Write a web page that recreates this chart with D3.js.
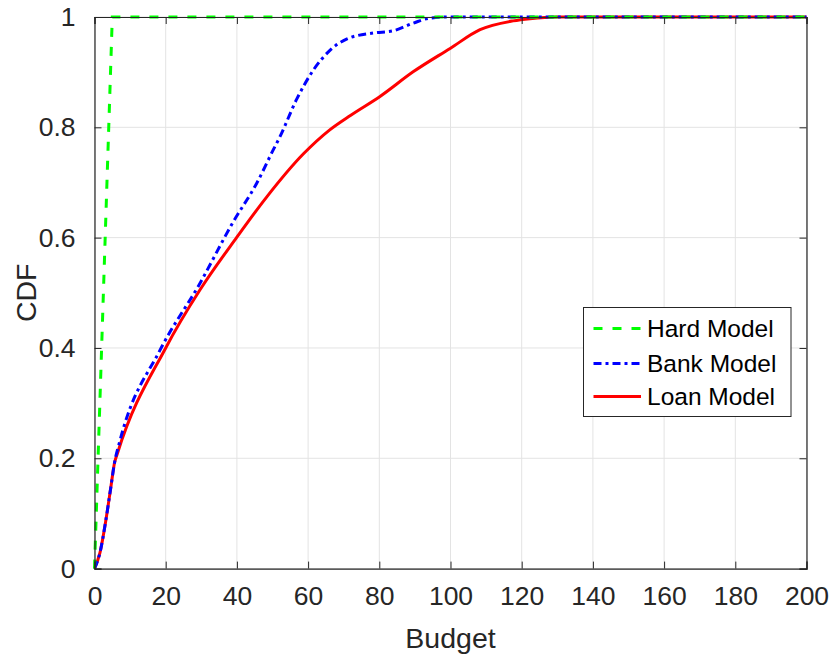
<!DOCTYPE html>
<html>
<head>
<meta charset="utf-8">
<script src="https://cdn.jsdelivr.net/npm/d3@7"></script>
<style>
  body { margin: 0; background: #fff; }
  svg { font-family: "Liberation Sans", Arial, Helvetica, sans-serif; }
</style>
</head>
<body>
<div id="chart"></div>
<script>
// values
const hardX = [0, 1, 2, 3, 4, 5, 200];
const hardY = [0, 0.2, 0.4, 0.6, 0.8, 1, 1];

const bankX = [0, 1.5, 3.2, 4.6, 5.6, 7.2, 18.4, 29.6, 39, 45.6, 50.2, 52.1, 56.8, 61.5, 66.2, 70.8, 78.3, 83.9, 89.6, 94.2, 100, 200];
const bankY = [0, 0.028, 0.088, 0.148, 0.191, 0.233, 0.396, 0.517, 0.629, 0.699, 0.759, 0.783, 0.851, 0.904, 0.94, 0.96, 0.971, 0.975, 0.989, 0.998, 1, 1];

const loanX = [0, 1.5, 3.2, 4.6, 5.6, 6.5, 20, 29.6, 39.9, 48.4, 58.7, 66, 72, 80.2, 89.6, 99.9, 108.3, 117.6, 122.3, 130, 200];
const loanY = [0, 0.028, 0.088, 0.148, 0.191, 0.21, 0.4, 0.505, 0.6, 0.674, 0.752, 0.795, 0.822, 0.856, 0.901, 0.943, 0.977, 0.993, 0.997, 1, 1];

const xTicks = [0, 20, 40, 60, 80, 100, 120, 140, 160, 180, 200];
const yTicks = [0, 0.2, 0.4, 0.6, 0.8, 1];
const seriesNames = ["Hard Model", "Bank Model", "Loan Model"];

const width = 830, height = 656;
const margin = {top: 17, right: 23.5, bottom: 87.4, left: 94.5};
const innerW = width - margin.left - margin.right;
const innerH = height - margin.top - margin.bottom;
const axisColor = "#262626";

const svg = d3.select("#chart")
  .append("svg")
  .attr("width", width)
  .attr("height", height);

const g = svg.append("g")
  .attr("transform", `translate(${margin.left}, ${margin.top})`);

const x = d3.scaleLinear().domain([0, 200]).range([0, innerW]);
const y = d3.scaleLinear().domain([0, 1]).range([innerH, 0]);

// grid
g.append("g")
  .selectAll("line")
  .data(xTicks)
  .join("line")
  .attr("x1", d => x(d)).attr("x2", d => x(d))
  .attr("y1", 0).attr("y2", innerH)
  .attr("stroke", "#e3e3e3").attr("stroke-width", 1);

g.append("g")
  .selectAll("line")
  .data(yTicks)
  .join("line")
  .attr("y1", d => y(d)).attr("y2", d => y(d))
  .attr("x1", 0).attr("x2", innerW)
  .attr("stroke", "#e3e3e3").attr("stroke-width", 1);

// lines
const series = [
  {name: seriesNames[0], xs: hardX, ys: hardY, color: "#00ff00", dash: "9,10", curve: d3.curveLinear},
  {name: seriesNames[1], xs: bankX, ys: bankY, color: "#0000ff", dash: "8,4,3,4", curve: d3.curveMonotoneX},
  {name: seriesNames[2], xs: loanX, ys: loanY, color: "#ff0000", dash: null, curve: d3.curveMonotoneX}
];

// draw red first, then blue, then green on top
[series[2], series[1], series[0]].forEach(s => {
  const pts = s.xs.map((v, i) => [v, s.ys[i]]);
  const line = d3.line()
    .x(d => x(d[0]))
    .y(d => y(d[1]))
    .curve(s.curve);
  g.append("path")
    .datum(pts)
    .attr("d", line)
    .attr("fill", "none")
    .attr("stroke", s.color)
    .attr("stroke-width", 3)
    .attr("stroke-dasharray", s.dash);
});

// axes
const tickLen = 7;
const xAxis = g.append("g")
  .attr("transform", `translate(0, ${innerH})`)
  .call(d3.axisBottom(x).tickValues(xTicks).tickSize(-tickLen).tickPadding(18).tickFormat(d3.format("d")));
const xAxisTop = g.append("g")
  .call(d3.axisTop(x).tickValues(xTicks).tickSize(-tickLen).tickFormat(""));
const yAxis = g.append("g")
  .call(d3.axisLeft(y).tickValues(yTicks).tickSize(-tickLen).tickPadding(19).tickFormat(d => d === 0 || d === 1 ? d3.format("d")(d) : d3.format(".1f")(d)));
const yAxisRight = g.append("g")
  .attr("transform", `translate(${innerW}, 0)`)
  .call(d3.axisRight(y).tickValues(yTicks).tickSize(-tickLen).tickFormat(""));

[xAxis, xAxisTop, yAxis, yAxisRight].forEach(a => {
  a.select(".domain").attr("stroke", axisColor).attr("stroke-width", 1.2);
  a.selectAll(".tick line").attr("stroke", axisColor).attr("stroke-width", 1);
  a.selectAll(".tick text").attr("fill", axisColor).attr("font-size", 26.5)
    .attr("font-family", "'Liberation Sans', Arial, sans-serif");
});

// axis labels
svg.append("text")
  .attr("x", margin.left + innerW / 2)
  .attr("y", 648)
  .attr("text-anchor", "middle")
  .attr("fill", axisColor)
  .attr("font-size", 28.5)
  .text("Budget");

svg.append("text")
  .attr("transform", `translate(36, ${margin.top + innerH / 2}) rotate(-90)`)
  .attr("text-anchor", "middle")
  .attr("fill", axisColor)
  .attr("font-size", 28.5)
  .text("CDF");

// legend
const legend = svg.append("g").attr("transform", "translate(583.5, 307.5)");
legend.append("rect")
  .attr("width", 207.5).attr("height", 109)
  .attr("fill", "#fff")
  .attr("stroke", axisColor).attr("stroke-width", 1);

const rowY = [21, 56, 89];
series.forEach((s, i) => {
  legend.append("line")
    .attr("x1", 10).attr("x2", 57.5)
    .attr("y1", rowY[i]).attr("y2", rowY[i])
    .attr("stroke", s.color).attr("stroke-width", 3)
    .attr("stroke-dasharray", s.dash);
  legend.append("text")
    .attr("x", 63.5).attr("y", rowY[i] + 8.5)
    .attr("fill", "#000")
    .attr("font-size", 24.5)
    .text(s.name);
});
</script>
</body>
</html>
